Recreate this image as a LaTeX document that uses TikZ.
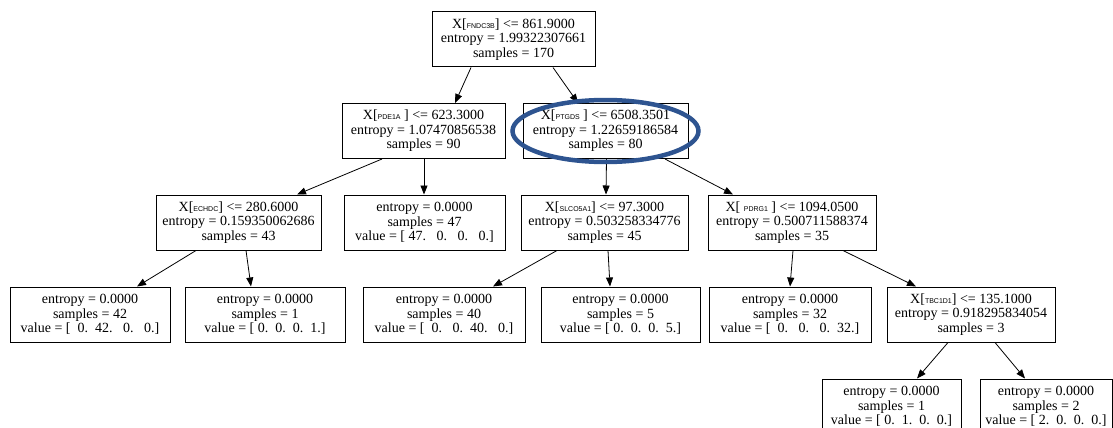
\documentclass[tikz,border=0pt]{standalone}
\usepackage{fontspec}
\setmainfont{Liberation Serif}
\newfontfamily\capsfont{Liberation Sans}
\usetikzlibrary{arrows.meta}
\definecolor{ringblue}{RGB}{46,84,144}
\newcommand{\fl}[1]{{\capsfont\fontsize{7}{7}\selectfont #1}}
\tikzset{
  tnode/.style={draw, line width=1pt, minimum height=55pt, inner sep=0pt, align=center,
    font=\fontsize{14}{14.5}\selectfont},
  edgearrow/.style={-{Triangle[length=9pt,width=7pt]}, line width=0.8pt},
  ring/.style={draw=ringblue, line width=4.5pt}
}
\begin{document}
\begin{tikzpicture}[x=1pt,y=-1pt]
\useasboundingbox (0,0) rectangle (1113,428);
\clip (0,0) rectangle (1113,428);
\node[tnode, minimum width=163pt] (root) at (513.5,39.5) {X[\fl{FNDC3B}] <= 861.9000\\entropy = 1.99322307661\\samples = 170};
\node[tnode, minimum width=163pt] (pde) at (423.5,131) {X[\fl{PDE1A}~] <= 623.3000\\entropy = 1.07470856538\\samples = 90};
\node[tnode, minimum width=165pt] (ptgds) at (605.5,131) {X[\fl{PTGDS}~] <= 6508.3501\\entropy = 1.22659186584\\samples = 80};
\node[tnode, minimum width=165pt] (echdc) at (238.5,222.5) {X[\fl{ECHDC}] <= 280.6000\\entropy = 0.159350062686\\samples = 43};
\node[tnode, minimum width=161pt] (l47) at (424.5,222.5) {entropy = 0.0000\\samples = 47\\value = [~47.~~~0.~~~0.~~~0.]};
\node[tnode, minimum width=167pt] (slco) at (604.5,222.5) {X[\fl{SLCO5A1}] <= 97.3000\\entropy = 0.503258334776\\samples = 45};
\node[tnode, minimum width=168pt] (pdrg) at (792,222.5) {X[~\fl{PDRG1}~] <= 1094.0500\\entropy = 0.500711588374\\samples = 35};
\node[tnode, minimum width=160pt] (l42) at (90,314.5) {entropy = 0.0000\\samples = 42\\value = [~~0.~~42.~~~0.~~~0.]};
\node[tnode, minimum width=160pt] (l1) at (265,314.5) {entropy = 0.0000\\samples = 1\\value = [~0.~~0.~~0.~~1.]};
\node[tnode, minimum width=162pt] (l40) at (444,314.5) {entropy = 0.0000\\samples = 40\\value = [~~0.~~~0.~~40.~~~0.]};
\node[tnode, minimum width=159pt] (l5) at (620.5,314.5) {entropy = 0.0000\\samples = 5\\value = [~0.~~0.~~0.~~5.]};
\node[tnode, minimum width=162pt] (l32) at (790,314.5) {entropy = 0.0000\\samples = 32\\value = [~~0.~~~0.~~~0.~~32.]};
\node[tnode, minimum width=168pt] (tbc) at (971,314.5) {X[\fl{TBC1D1}] <= 135.1000\\entropy = 0.918295834054\\samples = 3};
\node[tnode, minimum width=139pt] (l1b) at (891.5,406.5) {entropy = 0.0000\\samples = 1\\value = [~0.~~1.~~0.~~0.]};
\node[tnode, minimum width=132pt] (l2) at (1046,406.5) {entropy = 0.0000\\samples = 2\\value = [~2.~~0.~~0.~~0.]};
\draw[edgearrow] ([xshift=-42.5pt]root.south) -- ([xshift=31.5pt]pde.north);
\draw[edgearrow] ([xshift=39.5pt]root.south) -- ([xshift=-27.5pt]ptgds.north);
\draw[edgearrow] ([xshift=-41.5pt]pde.south) -- ([xshift=58.5pt]echdc.north);
\draw[edgearrow] ([xshift=0.5pt]pde.south) -- ([xshift=-0.5pt]l47.north);
\draw[edgearrow] ([xshift=1pt]ptgds.south) -- ([xshift=1.5pt]slco.north);
\draw[edgearrow] ([xshift=59.5pt]ptgds.south) -- ([xshift=-59pt]pdrg.north);
\draw[edgearrow] ([xshift=-42.5pt]echdc.south) -- ([xshift=47pt]l42.north);
\draw[edgearrow] ([xshift=7.5pt]echdc.south) -- ([xshift=-14pt]l1.north);
\draw[edgearrow] ([xshift=-47.5pt]slco.south) -- ([xshift=49pt]l40.north);
\draw[edgearrow] ([xshift=3.5pt]slco.south) -- ([xshift=-10.5pt]l5.north);
\draw[edgearrow] ([xshift=1pt]pdrg.south) -- (l32.north);
\draw[edgearrow] ([xshift=51pt]pdrg.south) -- ([xshift=-55pt]tbc.north);
\draw[edgearrow] ([xshift=-23pt]tbc.south) -- ([xshift=25.5pt]l1b.north);
\draw[edgearrow] ([xshift=24pt]tbc.south) -- ([xshift=-21pt]l2.north);
\draw[ring] (ptgds.center) ellipse [x radius=93pt, y radius=31pt];
\end{tikzpicture}
\end{document}
